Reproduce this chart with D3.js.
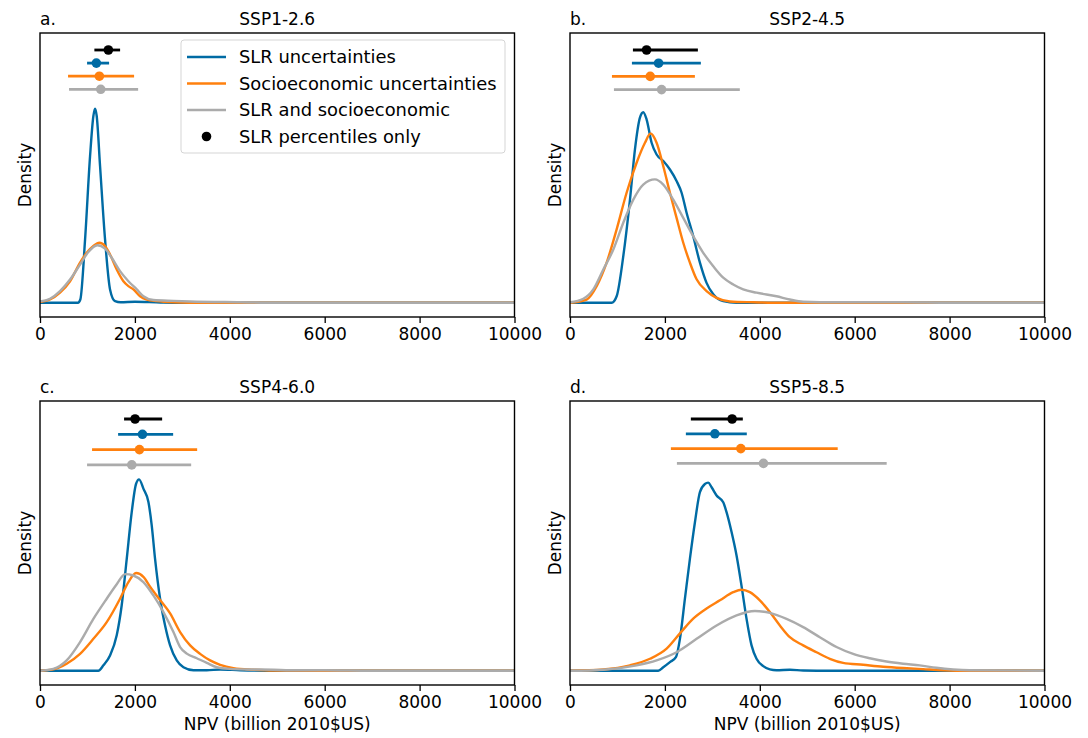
<!DOCTYPE html>
<html>
<head>
<meta charset="utf-8">
<script src="https://cdn.jsdelivr.net/npm/d3@7"></script>
<style>
body { margin: 0; background: #fff; }
text { font-family: "DejaVu Sans", sans-serif; fill: #000; }
</style>
</head>
<body>
<div id="chart"></div>
<script>
// series names / colours (legend order)
const seriesNames = ["SLR uncertainties", "Socioeconomic uncertainties", "SLR and socioeconomic"]
const pointLabel = "SLR percentiles only"
const panelTitles = ["SSP1-2.6", "SSP2-4.5", "SSP4-6.0", "SSP5-8.5"]
const panelLetters = ["a.", "b.", "c.", "d."]
const xTicks = [0, 2000, 4000, 6000, 8000, 10000]

// density curves: [NPV, density (relative)]
const slrA = [[0,0],[800,0],[850,0.012],[950,0.232],[1055,0.537],[1125,0.684],[1160,0.711],[1195,0.684],[1266,0.50],[1371,0.232],[1476,0.049],[1582,0.006],[1700,0.002],[2000,0.004],[2300,0.003],[2600,0.001],[3000,0],[10000,0]]
const socA = [[0,0.003],[211,0.012],[422,0.037],[633,0.079],[844,0.147],[984,0.183],[1125,0.208],[1251,0.220],[1371,0.208],[1476,0.177],[1617,0.122],[1758,0.079],[1863,0.061],[1968,0.049],[2109,0.024],[2250,0.012],[2460,0.006],[2812,0.002],[3500,0],[10000,0]]
const bothA = [[0,0.005],[211,0.015],[422,0.043],[633,0.085],[844,0.140],[1019,0.186],[1209,0.211],[1371,0.198],[1511,0.165],[1687,0.116],[1863,0.079],[2039,0.049],[2179,0.024],[2390,0.010],[2812,0.007],[3163,0.005],[4218,0.002],[5000,0],[10000,0]]

const slrB = [[0,0],[878,0],[983,0.024],[1123,0.171],[1264,0.378],[1369,0.562],[1474,0.678],[1544,0.698],[1615,0.671],[1720,0.586],[1825,0.543],[1966,0.519],[2106,0.488],[2246,0.446],[2352,0.403],[2457,0.330],[2597,0.244],[2738,0.147],[2878,0.073],[3019,0.031],[3229,0.006],[3510,0],[10000,0]]
const socB = [[0,0],[351,0.012],[562,0.061],[772,0.147],[983,0.269],[1193,0.403],[1404,0.513],[1580,0.586],[1699,0.620],[1825,0.586],[1966,0.500],[2106,0.403],[2246,0.311],[2387,0.220],[2527,0.147],[2668,0.086],[2878,0.043],[3089,0.018],[3370,0.005],[3861,0.002],[4500,0],[10000,0]]
const bothB = [[0,0.002],[281,0.015],[491,0.049],[702,0.122],[913,0.195],[1123,0.293],[1334,0.378],[1544,0.433],[1790,0.452],[1966,0.433],[2176,0.378],[2387,0.311],[2597,0.244],[2808,0.183],[3019,0.134],[3229,0.092],[3440,0.067],[3650,0.049],[3931,0.037],[4352,0.024],[4633,0.012],[4914,0.004],[5616,0.002],[7000,0.002],[8000,0],[10000,0]]

const slrC = [[0,0],[1230,0],[1336,0.020],[1476,0.056],[1617,0.130],[1722,0.240],[1828,0.410],[1933,0.581],[2025,0.685],[2088,0.701],[2179,0.667],[2285,0.618],[2355,0.532],[2425,0.410],[2531,0.264],[2636,0.166],[2742,0.093],[2882,0.038],[3023,0.013],[3234,0.002],[3515,0.002],[3796,0.005],[4218,0.002],[5000,0],[10000,0]]
const socC = [[0,0],[281,0.005],[562,0.026],[844,0.062],[1125,0.117],[1406,0.178],[1687,0.264],[1863,0.325],[2025,0.358],[2179,0.344],[2320,0.308],[2531,0.259],[2742,0.210],[2953,0.142],[3164,0.093],[3374,0.062],[3585,0.038],[3796,0.022],[4077,0.010],[4499,0.004],[4921,0.001],[6000,0],[10000,0]]
const bothC = [[0,0],[281,0.007],[562,0.038],[844,0.105],[1125,0.190],[1406,0.264],[1617,0.317],[1793,0.354],[1968,0.349],[2179,0.325],[2390,0.276],[2601,0.215],[2812,0.142],[2953,0.087],[3093,0.063],[3304,0.046],[3515,0.029],[3726,0.013],[4007,0.007],[4359,0.005],[4921,0.004],[5272,0.002],[6000,0.002],[7000,0],[10000,0]]

const slrD = [[0,0],[1860,0],[1966,0.013],[2106,0.032],[2232,0.050],[2317,0.117],[2422,0.264],[2527,0.410],[2633,0.544],[2738,0.654],[2843,0.684],[2913,0.689],[2984,0.672],[3089,0.642],[3229,0.617],[3299,0.581],[3405,0.508],[3510,0.422],[3615,0.311],[3721,0.190],[3826,0.093],[3931,0.044],[4072,0.017],[4212,0.005],[4352,0.002],[4633,0.004],[4914,0.001],[5500,0],[10000,0]]
const socD = [[0,0],[702,0.005],[1264,0.020],[1685,0.044],[2036,0.081],[2317,0.137],[2597,0.191],[2878,0.228],[3159,0.258],[3440,0.288],[3615,0.297],[3791,0.288],[4001,0.258],[4212,0.215],[4423,0.166],[4633,0.123],[4914,0.093],[5195,0.068],[5476,0.044],[5756,0.029],[6178,0.022],[6599,0.015],[7020,0.010],[7441,0.006],[7862,0.002],[8424,0],[10000,0]]
const bothD = [[0,0],[702,0.004],[1404,0.020],[1825,0.038],[2246,0.068],[2668,0.117],[3089,0.166],[3510,0.203],[3896,0.219],[4212,0.212],[4563,0.190],[4914,0.160],[5265,0.123],[5616,0.087],[5967,0.062],[6318,0.046],[6669,0.034],[7020,0.026],[7371,0.020],[7722,0.011],[8073,0.005],[8424,0.002],[10000,0]]

// percentile bars [low, median, high]: SLR percentiles only, SLR, socioeconomic, both
const barsA = [[1146,1441,1688],[992,1188,1456],[591,1251,1983],[612,1280,2068]]
const barsB = [[1326,1614,2695],[1305,1867,2758],[884,1691,2632],[926,1930,3579]]
const barsC = [[1772,2004,2574],[1646,2159,2806],[1097,2096,3312],[992,1934,3186]]
const barsD = [[2547,3417,3642],[2442,3053,3726],[2126,3600,5642],[2253,4077,6674]]

const curveColors = ["#006BA4", "#FF800E", "#ABABAB"]
const barColors = ["#000000", "#006BA4", "#FF800E", "#ABABAB"]

const panels = [
    { curves: [slrA, socA, bothA], bars: barsA, left: 40, top: 33, barTop: 17, barStep: 13.1 },
    { curves: [slrB, socB, bothB], bars: barsB, left: 570, top: 33, barTop: 17, barStep: 13.2 },
    { curves: [slrC, socC, bothC], bars: barsC, left: 40, top: 401, barTop: 18, barStep: 15.3 },
    { curves: [slrD, socD, bothD], bars: barsD, left: 570, top: 401, barTop: 18, barStep: 14.8 },
]

const W = 1088, H = 738
const panelW = 474.5, panelH = 284
const fontSize = 17

const svg = d3.select("#chart")
    .append("svg")
    .attr("width", W)
    .attr("height", H)

panels.forEach((p, i) => {
    const g = svg.append("g").attr("transform", `translate(${p.left},${p.top})`)

    const xScale = d3.scaleLinear().domain([0, 10000]).range([0, panelW])
    const yScale = d3.scaleLinear().domain([-0.052, 0.988]).range([panelH, 0])

    const line = d3.line()
        .x(d => xScale(d[0]))
        .y(d => yScale(d[1]))
        .curve(d3.curveMonotoneX)

    // density curves
    p.curves.forEach((c, j) => {
        g.append("path")
            .datum(c)
            .attr("d", line)
            .attr("fill", "none")
            .attr("stroke", curveColors[j])
            .attr("stroke-width", 2.4)
            .attr("stroke-linejoin", "round")
    })

    // percentile bars with median dots
    p.bars.forEach((b, j) => {
        const y = p.barTop + j * p.barStep
        g.append("line")
            .attr("x1", xScale(b[0]))
            .attr("x2", xScale(b[2]))
            .attr("y1", y)
            .attr("y2", y)
            .attr("stroke", barColors[j])
            .attr("stroke-width", 2.8)
        g.append("circle")
            .attr("cx", xScale(b[1]))
            .attr("cy", y)
            .attr("r", 4.8)
            .attr("fill", barColors[j])
    })

    // frame
    g.append("rect")
        .attr("width", panelW)
        .attr("height", panelH)
        .attr("fill", "none")
        .attr("stroke", "#000")
        .attr("stroke-width", 1.4)

    // x-axis
    const bottomAxis = d3.axisBottom(xScale)
        .tickValues(xTicks)
        .tickFormat(d3.format("d"))
        .tickSize(6)
        .tickPadding(5)
        .tickSizeOuter(0)

    const ax = g.append("g")
        .attr("transform", `translate(0,${panelH})`)
        .call(bottomAxis)
    ax.select(".domain").remove()
    ax.selectAll(".tick line").attr("stroke", "#000").attr("stroke-width", 1.3)
    ax.selectAll(".tick text")
        .attr("font-size", fontSize)
        .attr("font-family", "DejaVu Sans")
        .attr("fill", "#000")

    if (i >= 2) {
        g.append("text")
            .attr("x", panelW / 2)
            .attr("y", panelH + 45)
            .attr("text-anchor", "middle")
            .attr("font-size", fontSize)
            .text("NPV (billion 2010$US)")
    }

    // y label
    g.append("text")
        .attr("transform", `translate(-9,${panelH / 2}) rotate(-90)`)
        .attr("text-anchor", "middle")
        .attr("font-size", fontSize)
        .text("Density")

    // titles
    g.append("text")
        .attr("x", panelW / 2)
        .attr("y", -8)
        .attr("text-anchor", "middle")
        .attr("font-size", fontSize)
        .text(panelTitles[i])
    g.append("text")
        .attr("x", 0)
        .attr("y", -8)
        .attr("font-size", fontSize)
        .text(panelLetters[i])

    // legend in first panel
    if (i === 0) {
        const lg = g.append("g").attr("transform", "translate(141,7)")
        lg.append("rect")
            .attr("width", 324)
            .attr("height", 113)
            .attr("rx", 3)
            .attr("fill", "#fff")
            .attr("fill-opacity", 0.8)
            .attr("stroke", "#d5d5d5")
            .attr("stroke-width", 1)
        const rows = seriesNames.concat([pointLabel])
        rows.forEach((name, j) => {
            const ry = 17 + j * 26.5
            if (j < 3) {
                lg.append("line")
                    .attr("x1", 6).attr("x2", 45)
                    .attr("y1", ry).attr("y2", ry)
                    .attr("stroke", curveColors[j])
                    .attr("stroke-width", 2.4)
            } else {
                lg.append("circle")
                    .attr("cx", 25.5).attr("cy", ry)
                    .attr("r", 4.8)
                    .attr("fill", "#000")
            }
            lg.append("text")
                .attr("x", 58)
                .attr("y", ry + 6)
                .attr("font-size", 17.9)
                .text(name)
        })
    }
})
</script>
</body>
</html>
